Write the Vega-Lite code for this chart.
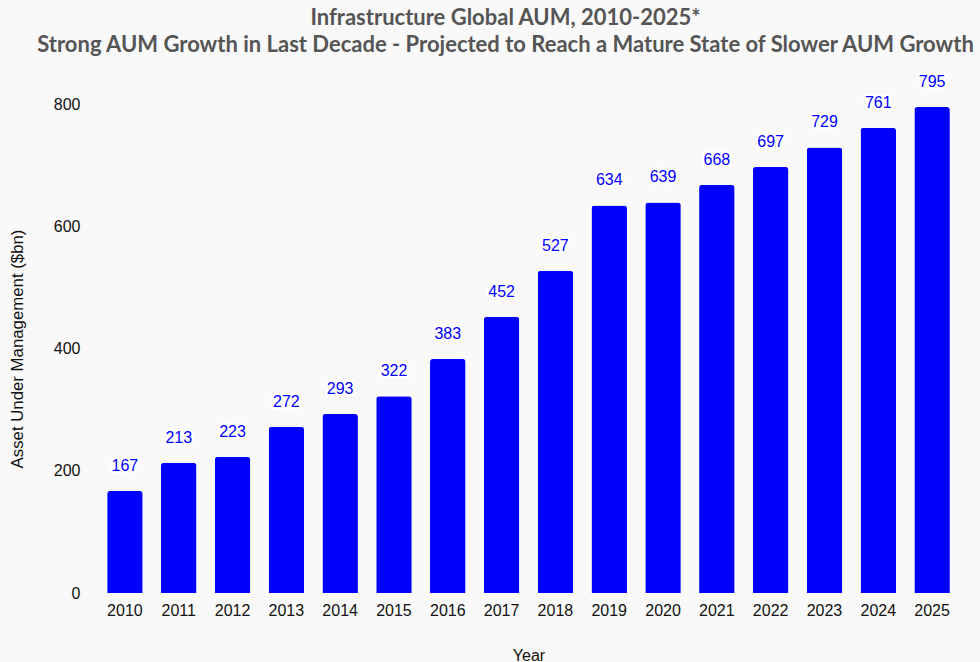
{
  "$schema": "https://vega.github.io/schema/vega-lite/v6.json",
  "width": 861,
  "height": 489,
  "autosize": "none",
  "padding": {"left": 98, "top": 104, "right": 21, "bottom": 69},
  "background": "#f9f9f9",
  "title": {
    "text": ["Infrastructure Global AUM, 2010-2025*", "Strong AUM Growth in Last Decade - Projected to Reach a Mature State of Slower AUM Growth"],
    "anchor": "middle",
    "dx": -23,
    "offset": 17,
    "font": "Lato",
    "fontSize": 22,
    "fontWeight": "bold",
    "color": "#555555",
    "lineHeight": 27
  },
  "config": {
    "view": {"stroke": null},
    "axis": {"grid": false, "domain": false, "ticks": false, "labelFont": "Liberation Sans", "labelFontSize": 16, "labelColor": "#111111", "titleFont": "Liberation Sans", "titleFontWeight": "normal", "titleColor": "#111111"}
  },
  "data": {
    "values": [
      {"Year": "2010", "AUM": 167},
      {"Year": "2011", "AUM": 213},
      {"Year": "2012", "AUM": 223},
      {"Year": "2013", "AUM": 272},
      {"Year": "2014", "AUM": 293},
      {"Year": "2015", "AUM": 322},
      {"Year": "2016", "AUM": 383},
      {"Year": "2017", "AUM": 452},
      {"Year": "2018", "AUM": 527},
      {"Year": "2019", "AUM": 634},
      {"Year": "2020", "AUM": 639},
      {"Year": "2021", "AUM": 668},
      {"Year": "2022", "AUM": 697},
      {"Year": "2023", "AUM": 729},
      {"Year": "2024", "AUM": 761},
      {"Year": "2025", "AUM": 795}
    ]
  },
  "encoding": {
    "x": {
      "field": "Year", "type": "ordinal",
      "scale": {"paddingInner": 0.34, "paddingOuter": 0.17},
      "axis": {"labelAngle": 0, "labelPadding": 9, "title": "Year", "titleFontSize": 16, "titlePadding": 29}
    },
    "y": {
      "field": "AUM", "type": "quantitative",
      "scale": {"domain": [0, 800], "nice": false},
      "axis": {"values": [0, 200, 400, 600, 800], "labelPadding": 18, "title": "Asset Under Management ($bn)", "titleFontSize": 16.8, "titlePadding": 27}
    }
  },
  "layer": [
    {"mark": {"type": "bar", "color": "#0000ff", "cornerRadiusTopLeft": 3, "cornerRadiusTopRight": 3}},
    {"mark": {"type": "text", "dy": -20, "baseline": "alphabetic", "font": "Liberation Sans", "fontSize": 16, "color": "#0000ff", "stroke": "#ffffff", "strokeWidth": 5, "strokeJoin": "round"}, "encoding": {"text": {"field": "AUM", "type": "quantitative"}}},
    {"mark": {"type": "text", "dy": -20, "baseline": "alphabetic", "font": "Liberation Sans", "fontSize": 16, "color": "#0000ff"}, "encoding": {"text": {"field": "AUM", "type": "quantitative"}}}
  ]
}
